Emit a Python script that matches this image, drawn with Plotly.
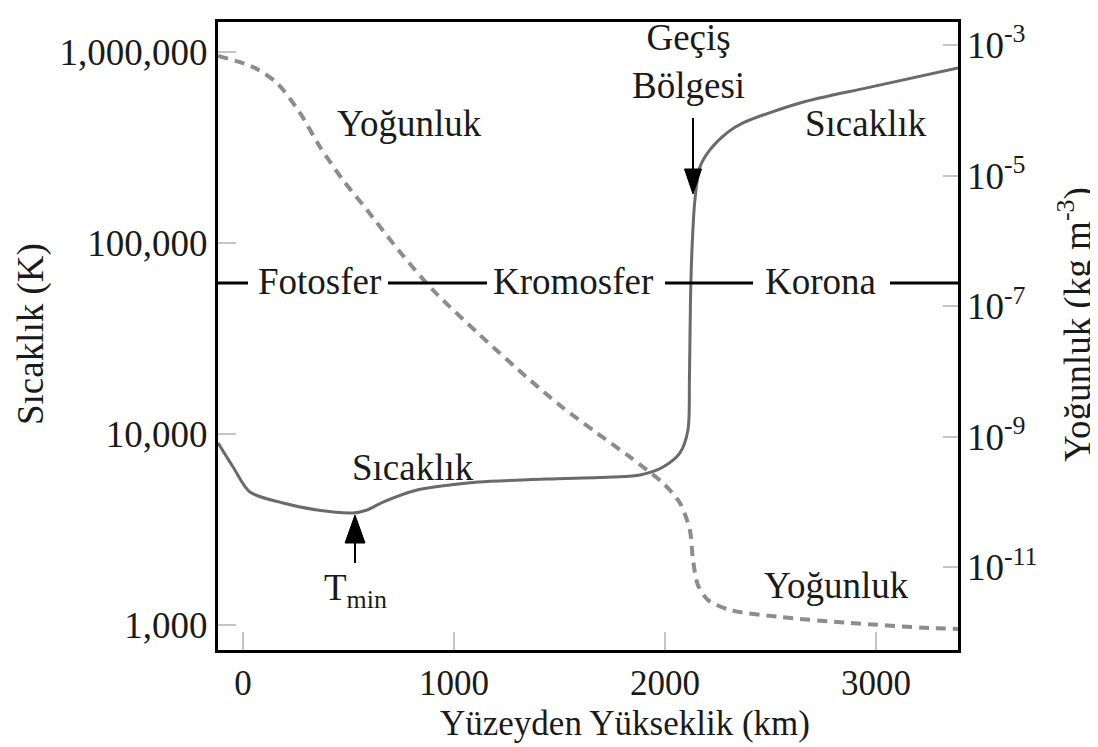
import plotly.graph_objects as go

# ---- data ----
height_T_km = [-118, -47, 33, 190, 351, 521, 588, 664, 825, 981, 1118, 1441, 1754, 1882,
               1991, 2071, 2109, 2116, 2121, 2128, 2142, 2166, 2213, 2294, 2370, 2640, 2957, 3389]
temperature_K = [8970, 6720, 4970, 4350, 4000, 3860, 4000, 4400, 5090, 5410, 5610, 5810, 5950, 6100,
                 6720, 7960, 10500, 19200, 50300, 91800, 168000, 250000, 307000, 377000, 425000,
                 541000, 649000, 824000]

height_rho_km = [-118, 47, 161, 270, 365, 474, 588, 744, 900, 1118, 1360, 1512, 1678, 1834, 1915,
                 1991, 2071, 2118, 2133, 2156, 2204, 2308, 2545, 2877, 3256, 3389]
density = [6.79e-4, 4.60e-4, 2.62e-4, 9.10e-5, 2.74e-5, 8.57e-6, 2.97e-6, 6.76e-7, 1.77e-7, 3.75e-8,
           7.41e-9, 2.86e-9, 1.14e-9, 4.91e-10, 3.10e-10, 1.96e-10, 9.68e-11, 3.74e-11, 1.30e-11,
           5.38e-12, 3.17e-12, 2.23e-12, 1.74e-12, 1.41e-12, 1.18e-12, 1.14e-12]

x_ticks = [0, 1000, 2000, 3000]
T_ticks = [1e3, 1e4, 1e5, 1e6]
T_ticktext = ["1,000", "10,000", "100,000", "1,000,000"]
rho_ticks = [1e-3, 1e-5, 1e-7, 1e-9, 1e-11]
rho_ticktext = ["10<sup>-3</sup>", "10<sup>-5</sup>", "10<sup>-7</sup>", "10<sup>-9</sup>", "10<sup>-11</sup>"]

FONT = "Liberation Serif"
TXT = "#1a1a1a"
FS = 37
FS_X = 35

# page body has an 8px margin; figure is shifted accordingly
OFF = 8
W, H = 1098, 747
L, R, T, B = 218, 958, 22, 650  # plot area in window pixels


def px(x):
    return (x - L) / (R - L)


def py(y):
    return (B - y) / (B - T)


fig = go.Figure()
fig.add_trace(go.Scatter(x=height_T_km, y=temperature_K, mode="lines",
                         line=dict(color="#6a6a6a", width=3, shape="spline", smoothing=0.8),
                         showlegend=False, hoverinfo="skip"))
fig.add_trace(go.Scatter(x=height_rho_km, y=density, mode="lines", yaxis="y2",
                         line=dict(color="#8c8c8c", width=4, dash="10px,7px", shape="spline", smoothing=0.8),
                         showlegend=False, hoverinfo="skip"))

tickfont = dict(family=FONT, size=FS, color=TXT)
fig.update_layout(
    width=W - OFF, height=H - OFF,
    margin=dict(l=L - OFF, r=W - R, t=T - OFF, b=H - B, autoexpand=False),
    paper_bgcolor="white", plot_bgcolor="white",
    xaxis=dict(range=[-118.5, 3389], tickvals=x_ticks, ticks="inside", ticklen=18, tickwidth=2,
               tickcolor="#c4c4c4", showgrid=False, zeroline=False, showline=True, linecolor="black",
               linewidth=3, mirror=True, tickfont=dict(family=FONT, size=FS_X, color=TXT),
               ticklabelstandoff=0),
    yaxis=dict(type="log", range=[2.869, 6.157], tickvals=T_ticks, ticktext=T_ticktext, ticks="inside",
               ticklen=18, tickwidth=2, tickcolor="#c4c4c4", showgrid=False, zeroline=False,
               showline=True, linecolor="black", linewidth=3, mirror=True, tickfont=tickfont,
               ticklabelstandoff=0),
    yaxis2=dict(type="log", range=[-12.265, -2.648], overlaying="y", side="right", tickvals=rho_ticks,
                ticktext=rho_ticktext, ticks="inside", ticklen=15, tickwidth=2, tickcolor="#c4c4c4",
                showgrid=False, zeroline=False, showline=False, tickfont=tickfont, ticklabelstandoff=8),
)

# axis titles
titles = [
    ("Sıcaklık (K)", 31, 334, -90, FS),
    ("Yoğunluk (kg m<sup>-3</sup>)", 1075, 325, -90, FS),
    ("Yüzeyden Yükseklik (km)", 625, 723, 0, FS_X),
]
for text, x, y, ang, fs in titles:
    fig.add_annotation(text=text, xref="paper", yref="paper", x=px(x), y=py(y), textangle=ang,
                       xanchor="center", yanchor="middle", showarrow=False,
                       font=dict(family=FONT, size=fs, color=TXT))

# labels inside the plot
labels = [
    ("Yoğunluk", 409, 123),
    ("Sıcaklık", 866, 124),
    ("Geçiş<br>Bölgesi", 688, 62),
    ("Sıcaklık", 413, 467),
    ("T<sub>min</sub>", 355, 590),
    ("Yoğunluk", 836, 585),
    ("Fotosfer", 319, 281),
    ("Kromosfer", 573, 281),
    ("Korona", 820, 281),
]
for text, x, y in labels:
    fig.add_annotation(text=text, xref="paper", yref="paper", x=px(x), y=py(y), showarrow=False,
                       xanchor="center", yanchor="middle", font=dict(family=FONT, size=FS, color=TXT))

# region divider line segments
for x0, x1 in [(218, 248), (388, 487), (665, 753), (890, 958)]:
    fig.add_shape(type="line", xref="paper", yref="paper", x0=px(x0), x1=px(x1), y0=py(283), y1=py(283),
                  line=dict(color="black", width=3))

# arrows
fig.add_shape(type="line", xref="paper", yref="paper", x0=px(693), x1=px(693), y0=py(118), y1=py(172),
              line=dict(color="black", width=2))
fig.add_shape(type="path", xref="paper", yref="paper", fillcolor="black", line=dict(color="black", width=1),
              path=f"M{px(684.5)},{py(169)} L{px(701.5)},{py(169)} L{px(693)},{py(194)} Z")
fig.add_shape(type="line", xref="paper", yref="paper", x0=px(355), x1=px(355), y0=py(540), y1=py(563),
              line=dict(color="black", width=2))
fig.add_shape(type="path", xref="paper", yref="paper", fillcolor="black", line=dict(color="black", width=1),
              path=f"M{px(345)},{py(543)} L{px(365)},{py(543)} L{px(355)},{py(515)} Z")

fig.write_html("out.html")
